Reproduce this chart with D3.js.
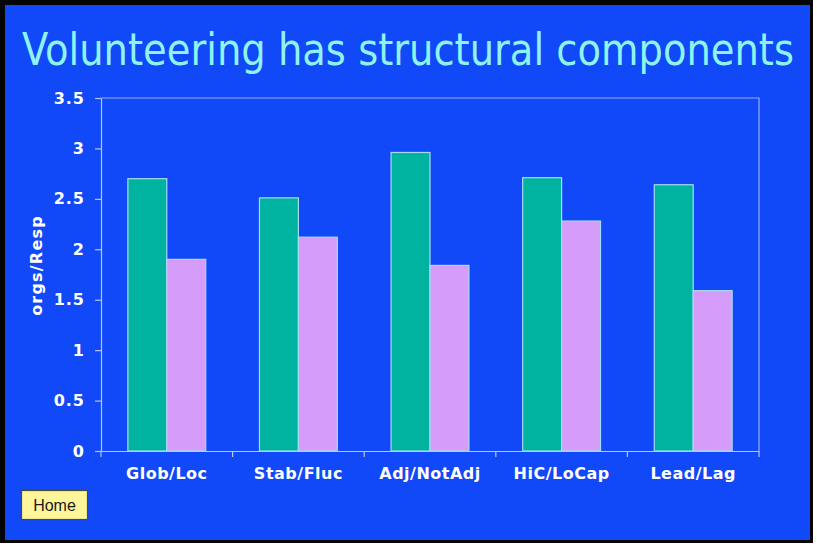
<!DOCTYPE html>
<html>
<head>
<meta charset="utf-8">
<script src="https://cdn.jsdelivr.net/npm/d3@7"></script>
<style>
  html, body { margin: 0; padding: 0; background: #ffffff; }
  svg { display: block; }
</style>
</head>
<body>
<svg id="chart" width="817" height="544"></svg>
<script>
// Organisations per respondent, split by each structural dimension
const categories = ["Glob/Loc", "Stab/Fluc", "Adj/NotAdj", "HiC/LoCap", "Lead/Lag"];
const firstGroup = [2.70, 2.51, 2.96, 2.71, 2.64];
const secondGroup = [1.90, 2.12, 1.84, 2.28, 1.59];
const yTicks = [0, 0.5, 1, 1.5, 2, 2.5, 3, 3.5];
const seriesNames = ["first", "second"];

const svg = d3.select("#chart");

// slide frame
svg.append("rect").attr("x", 0).attr("y", 0).attr("width", 813).attr("height", 543).attr("fill", "#050505");
svg.append("rect").attr("x", 5).attr("y", 5).attr("width", 805).attr("height", 535).attr("fill", "#1148f7");

// title
svg.append("text")
  .attr("x", 408).attr("y", 65)
  .attr("text-anchor", "middle")
  .attr("font-family", "'DejaVu Sans Condensed', 'DejaVu Sans', sans-serif")
  .attr("font-stretch", "condensed")
  .attr("font-size", 44)
  .attr("fill", "#8ef3ee")
  .attr("textLength", 772)
  .attr("lengthAdjust", "spacingAndGlyphs")
  .text("Volunteering has structural components");

const plot = { left: 101, right: 759, top: 98, bottom: 451 };

const x = d3.scaleBand().domain(categories).range([plot.left, plot.right]).paddingInner(0).paddingOuter(0);
const xs = d3.scaleBand().domain(seriesNames).range([0, x.bandwidth()]).paddingOuter(0.69).paddingInner(0);
const y = d3.scaleLinear().domain([0, 3.5]).range([plot.bottom, plot.top]);

const colors = { first: "#00b3a1", second: "#d69cf9" };
const axisColor = "#b9c6f5";
const labelFont = "'DejaVu Sans', Verdana, sans-serif";

// plot frame (top and right edges)
svg.append("path")
  .attr("d", `M${plot.left},${plot.top}H${plot.right}V${plot.bottom}`)
  .attr("fill", "none").attr("stroke", axisColor).attr("stroke-width", 1.2).attr("opacity", 0.8);

// bars
const rows = categories.map((c, i) => ({ cat: c, first: firstGroup[i], second: secondGroup[i] }));
const groups = svg.append("g").selectAll("g").data(rows).join("g")
  .attr("transform", d => `translate(${x(d.cat)},0)`);
groups.selectAll("rect")
  .data(d => seriesNames.map(k => ({ key: k, value: d[k] })))
  .join("rect")
  .attr("x", d => xs(d.key))
  .attr("y", d => y(d.value))
  .attr("width", xs.bandwidth())
  .attr("height", d => y(0) - y(d.value))
  .attr("fill", d => colors[d.key])
  .attr("stroke", "#a6dcf0")
  .attr("stroke-width", 1.2);

// y axis
const yAxis = svg.append("g")
  .attr("transform", `translate(${plot.left},0)`)
  .call(d3.axisLeft(y).tickValues(yTicks).tickFormat(d3.format("")).tickSize(6).tickSizeOuter(0).tickPadding(10));
yAxis.select(".domain").attr("stroke", axisColor).attr("stroke-width", 1.2);
yAxis.selectAll(".tick line").attr("stroke", axisColor).attr("stroke-width", 1.2);
yAxis.selectAll(".tick text")
  .attr("fill", "#ffffff")
  .attr("font-family", labelFont)
  .attr("font-weight", "bold")
  .attr("font-size", 16)
  .attr("letter-spacing", 1);

// x axis with ticks at category boundaries
const xAxis = svg.append("g")
  .attr("transform", `translate(0,${plot.bottom})`)
  .call(d3.axisBottom(x).tickSize(0).tickPadding(17));
xAxis.select(".domain").attr("stroke", axisColor).attr("stroke-width", 1.2);
xAxis.selectAll(".tick text")
  .attr("fill", "#ffffff")
  .attr("font-family", labelFont)
  .attr("font-weight", "bold")
  .attr("font-size", 16)
  .attr("letter-spacing", 0.5);
const boundaries = categories.map(c => x(c)).concat([plot.right]);
xAxis.selectAll("line.sep").data(boundaries).join("line")
  .attr("class", "sep")
  .attr("x1", d => d).attr("x2", d => d)
  .attr("y1", 0).attr("y2", 6)
  .attr("stroke", axisColor).attr("stroke-width", 1.2);

// y axis title
svg.append("text")
  .attr("transform", `translate(42,${(plot.top + plot.bottom) / 2 - 9}) rotate(-90)`)
  .attr("text-anchor", "middle")
  .attr("font-family", labelFont)
  .attr("font-weight", "bold")
  .attr("font-size", 16)
  .attr("letter-spacing", 1.2)
  .attr("fill", "#ffffff")
  .text("orgs/Resp");

// home button
svg.append("rect")
  .attr("x", 21.5).attr("y", 490.5).attr("width", 66).attr("height", 29)
  .attr("fill", "#fff59a").attr("stroke", "#4a4a30").attr("stroke-width", 1.2);
svg.append("text")
  .attr("x", 54.5).attr("y", 511)
  .attr("text-anchor", "middle")
  .attr("font-family", "'Liberation Sans', Arial, sans-serif")
  .attr("font-size", 16)
  .attr("fill", "#1a1a1a")
  .text("Home");
</script>
</body>
</html>
